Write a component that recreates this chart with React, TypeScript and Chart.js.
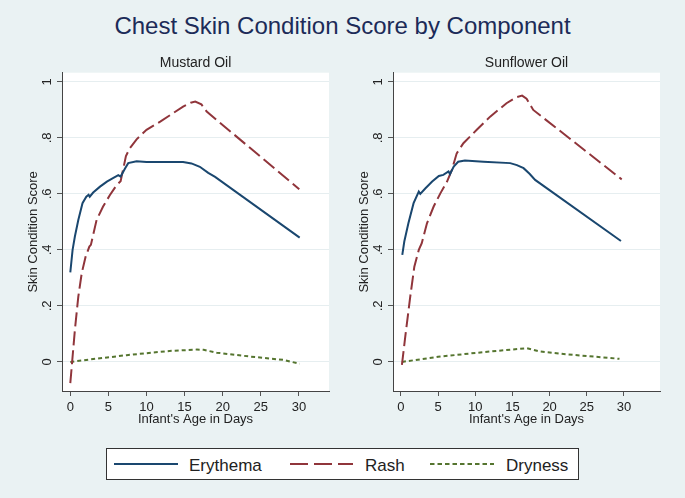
import React, { useEffect, useRef } from "react";
import { Chart, registerables } from "chart.js";

Chart.register(...registerables);

const FONT = "'Liberation Sans', Arial, Helvetica, sans-serif";
const TEXT = "#222222";

const mainTitle = "Chest Skin Condition Score by Component";
const panelTitles = ["Mustard Oil", "Sunflower Oil"];
const seriesNames = ["Erythema", "Rash", "Dryness"];
const xAxisTitle = "Infant's Age in Days";
const yAxisTitle = "Skin Condition Score";

const yTickValues = [0, 0.2, 0.4, 0.6, 0.8, 1];
const yTickLabels = ["0", ".2", ".4", ".6", ".8", "1"];
const xTickValues = [0, 5, 10, 15, 20, 25, 30];
const xTickLabels = ["0", "5", "10", "15", "20", "25", "30"];

// Mustard oil
const mustardErythemaDays = [0, 0.3, 0.6, 1.05, 1.6, 2.1, 2.4, 2.55, 3.0, 3.9, 4.8, 5.6, 6.3, 6.6, 7.2, 7.6, 8.7, 10, 12, 14.8, 15.9, 17.0, 18.1, 19.0, 30.1];
const mustardErythema = [0.32, 0.4, 0.448, 0.507, 0.567, 0.59, 0.597, 0.59, 0.605, 0.626, 0.644, 0.656, 0.667, 0.662, 0.692, 0.71, 0.717, 0.714, 0.714, 0.714, 0.709, 0.697, 0.675, 0.661, 0.444];
const mustardRashDays = [0, 0.6, 1.05, 1.5, 2.0, 2.5, 2.7, 3.45, 4.3, 5.2, 6.1, 6.6, 7.3, 7.8, 8.7, 10, 11.8, 14.8, 15.8, 16.4, 17.2, 17.9, 30.05];
const mustardRash = [-0.076, 0.114, 0.233, 0.317, 0.375, 0.412, 0.418, 0.507, 0.555, 0.596, 0.632, 0.645, 0.735, 0.763, 0.795, 0.829, 0.858, 0.912, 0.926, 0.93, 0.92, 0.894, 0.617];
const mustardDrynessDays = [0, 3, 7.4, 10, 13, 16.6, 17.5, 19.2, 23.6, 28.0, 30.1];
const mustardDryness = [0, 0.01, 0.024, 0.031, 0.039, 0.044, 0.043, 0.033, 0.019, 0.007, -0.007];

// Sunflower oil
const sunflowerErythemaDays = [0.18, 0.45, 1.0, 1.7, 2.4, 2.6, 3.3, 4.2, 5.1, 5.7, 6.4, 6.6, 7.1, 7.7, 8.6, 11.1, 14.7, 15.6, 16.5, 17.3, 18.05, 29.6];
const sunflowerErythema = [0.382, 0.43, 0.495, 0.567, 0.608, 0.6, 0.62, 0.644, 0.664, 0.668, 0.68, 0.671, 0.698, 0.715, 0.719, 0.715, 0.71, 0.703, 0.692, 0.672, 0.65, 0.432];
const sunflowerRashDays = [0.13, 0.58, 1.25, 1.8, 2.4, 2.8, 3.5, 4.4, 5.3, 6.2, 6.85, 7.5, 8.4, 10.2, 12, 14.2, 15.5, 16.3, 16.9, 17.8, 29.7];
const sunflowerRash = [-0.011, 0.09, 0.233, 0.34, 0.4, 0.424, 0.495, 0.555, 0.602, 0.644, 0.686, 0.745, 0.781, 0.829, 0.876, 0.924, 0.945, 0.951, 0.94, 0.9, 0.652];
const sunflowerDrynessDays = [0.13, 5, 10, 14, 16.9, 18.7, 21.9, 25.4, 29.4];
const sunflowerDryness = [0, 0.018, 0.032, 0.042, 0.049, 0.037, 0.028, 0.02, 0.011];

const COLORS = ["#1a476f", "#90353b", "#55752f"];
const DASHES: number[][] = [[], [14, 5], [4, 3]];

function pts(xs: number[], ys: number[]) {
  return xs.map((x, i) => ({ x, y: ys[i] }));
}

const plotBg = {
  id: "plotBg",
  beforeDraw(chart: any) {
    const { ctx, chartArea } = chart;
    if (!chartArea) return;
    ctx.save();
    ctx.fillStyle = "#ffffff";
    ctx.fillRect(chartArea.left, chartArea.top, chartArea.right - chartArea.left, chartArea.bottom - chartArea.top);
    ctx.restore();
  },
};

const panelTitle = {
  id: "panelTitle",
  afterDraw(chart: any, _args: any, opts: any) {
    const { ctx, chartArea } = chart;
    if (!chartArea || !opts || !opts.text) return;
    ctx.save();
    ctx.fillStyle = TEXT;
    ctx.font = `14px ${FONT}`;
    ctx.textAlign = "center";
    ctx.textBaseline = "alphabetic";
    ctx.fillText(opts.text, (chartArea.left + chartArea.right) / 2, 27.3);
    ctx.restore();
  },
};

type PanelProps = {
  title: string;
  series: { x: number[]; y: number[] }[];
  xMin: number;
  xMax: number;
  left: number;
  width: number;
  rightPad: number;
};

function Panel({ title, series, xMin, xMax, left, width, rightPad }: PanelProps) {
  const ref = useRef<HTMLCanvasElement | null>(null);
  useEffect(() => {
    if (!ref.current) return;
    const chart = new Chart(ref.current, {
      type: "line",
      data: {
        datasets: series.map((s, i) => ({
          label: seriesNames[i],
          data: pts(s.x, s.y),
          borderColor: COLORS[i],
          borderWidth: 2,
          borderDash: DASHES[i],
          pointRadius: 0,
          tension: 0,
          fill: false,
        })),
      },
      options: {
        animation: false,
        responsive: false,
        maintainAspectRatio: false,
        devicePixelRatio: 1,
        layout: { padding: { left: 0, right: rightPad, top: 32.7, bottom: 0 } },
        plugins: {
          legend: { display: false },
          tooltip: { enabled: false },
          title: { display: false },
          panelTitle: { text: title },
        },
        scales: {
          x: {
            type: "linear",
            min: xMin,
            max: xMax,
            afterBuildTicks: (s: any) => {
              s.ticks = xTickValues.map((v) => ({ value: v }));
            },
            afterFit: (s: any) => {
              s.height = 49;
            },
            grid: { drawOnChartArea: false, drawTicks: true, tickLength: 5, tickColor: "#555" },
            border: { color: "#444", width: 1 },
            ticks: {
              color: TEXT,
              font: { family: FONT, size: 13 },
              padding: 4,
              maxRotation: 0,
              minRotation: 0,
              autoSkip: false,
              callback: (_v: any, i: number) => xTickLabels[i],
            },
            title: {
              display: true,
              text: xAxisTitle,
              color: TEXT,
              font: { family: FONT, size: 13 },
              padding: { top: 0, bottom: 12.5 },
            },
          },
          y: {
            type: "linear",
            min: -0.104,
            max: 1.033,
            afterBuildTicks: (s: any) => {
              s.ticks = yTickValues.map((v) => ({ value: v }));
            },
            afterFit: (s: any) => {
              s.width = 62;
            },
            grid: { color: "#e6eef0", lineWidth: 1, drawTicks: true, tickLength: 5, tickColor: "#555" },
            border: { color: "#444", width: 1 },
            ticks: {
              color: TEXT,
              font: { family: FONT, size: 13 },
              minRotation: 90,
              maxRotation: 90,
              crossAlign: "center",
              padding: 4,
              autoSkip: false,
              callback: (_v: any, i: number) => yTickLabels[i],
            },
            title: {
              display: true,
              text: yAxisTitle,
              color: TEXT,
              font: { family: FONT, size: 13 },
              padding: { top: 25.2, bottom: 0 },
            },
          },
        },
      },
      plugins: [plotBg, panelTitle],
    } as any);
    return () => chart.destroy();
  }, []);
  return (
    <canvas
      ref={ref}
      width={width}
      height={400}
      style={{ position: "absolute", left, top: 40, width, height: 400 }}
    />
  );
}

function Legend() {
  const items = [
    { x1: 114, x2: 178, tx: 189 },
    { x1: 290, x2: 353, tx: 365 },
    { x1: 430, x2: 494, tx: 506 },
  ];
  return (
    <svg
      width={685}
      height={498}
      style={{ position: "absolute", left: 0, top: 0, pointerEvents: "none" }}
    >
      <rect x={106.5} y={448.5} width={472} height={31} fill="#ffffff" stroke="#333333" strokeWidth={1} />
      {items.map((it, i) => (
        <g key={i}>
          <line
            x1={it.x1}
            x2={it.x2}
            y1={464}
            y2={464}
            stroke={COLORS[i]}
            strokeWidth={2}
            strokeDasharray={i === 1 ? "18 6" : i === 2 ? "4.5 3" : undefined}
          />
          <text x={it.tx} y={470.5} fontFamily={FONT} fontSize={17} fill={TEXT}>
            {seriesNames[i]}
          </text>
        </g>
      ))}
    </svg>
  );
}

export default function App() {
  return (
    <div
      style={{
        position: "fixed",
        left: 0,
        top: 0,
        width: 685,
        height: 498,
        background: "rgb(234,242,243)",
        overflow: "hidden",
      }}
    >
      <div
        style={{
          position: "absolute",
          left: 0,
          top: 11,
          width: 685,
          textAlign: "center",
          fontFamily: FONT,
          fontSize: 24,
          lineHeight: "30px",
          color: "#1c2b58",
        }}
      >
        {mainTitle}
      </div>
      <Panel
        title={panelTitles[0]}
        series={[
          { x: mustardErythemaDays, y: mustardErythema },
          { x: mustardRashDays, y: mustardRash },
          { x: mustardDrynessDays, y: mustardDryness },
        ]}
        xMin={-1.09}
        xMax={33.95}
        left={0}
        width={342}
        rightPad={13}
      />
      <Panel
        title={panelTitles[1]}
        series={[
          { x: sunflowerErythemaDays, y: sunflowerErythema },
          { x: sunflowerRashDays, y: sunflowerRash },
          { x: sunflowerDrynessDays, y: sunflowerDryness },
        ]}
        xMin={-1.07}
        xMax={34.85}
        left={331}
        width={354}
        rightPad={25}
      />
      <Legend />
    </div>
  );
}
